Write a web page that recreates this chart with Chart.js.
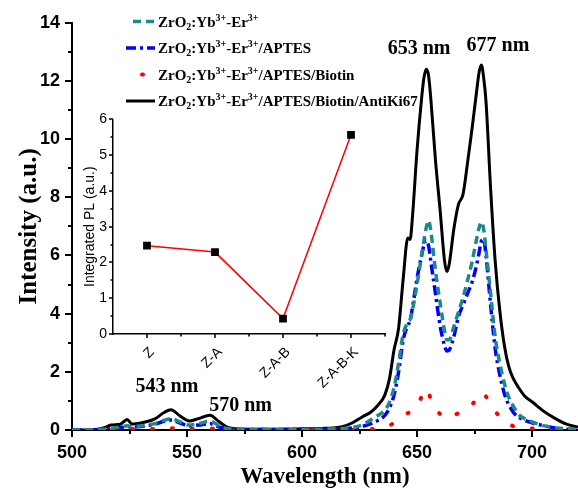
<!DOCTYPE html>
<html><head><meta charset="utf-8">
<script src="https://cdn.jsdelivr.net/npm/chart.js@4.4.1/dist/chart.umd.min.js"></script>
<style>
html,body{margin:0;padding:0;background:#fff;}
#wrap{position:relative;width:578px;height:491px;overflow:hidden;background:#fff;}
#main{position:absolute;left:0;top:0;}
#inset{position:absolute;left:70px;top:105px;}
</style></head><body>
<div id="wrap"><canvas id="main" width="578" height="491"></canvas><canvas id="inset" width="330" height="300"></canvas></div>
<script>
// ---- data ----
const wavelengths = [500,510,514,517,521,524,526,530,536,540,
  543,547,551,555,560,564,568,575,590,600,
  610,617,622,626,630,633,636,638,640,642,
  644,646,647,648,650,652,653,654,655,656,
  658,660,662,663,664,666,668,670,672,674,
  676,677,678,679,680,682,684,686,688,690,
  692,694,697,700,705,710,715,720];
const ZYE = [0,0.01,0.03,0.06,0.1,0.15,0.12,0.14,0.22,0.33,
  0.39,0.28,0.17,0.22,0.3,0.15,0.04,0.02,0.02,0.02,
  0.03,0.05,0.09,0.17,0.35,0.5,0.68,0.95,1.45,2.3,
  3.3,3.7,3.8,4.1,5.0,6.0,6.5,6.95,7.2,6.85,
  5.5,4.4,3.4,3.1,3.1,3.55,4.05,4.55,5.15,5.8,
  6.6,6.95,7.15,6.9,6.2,4.7,3.2,2.3,1.6,1.1,
  0.8,0.55,0.38,0.28,0.15,0.08,0.04,0.02];
const ZYE_APTES = [0,0.01,0.03,0.05,0.08,0.12,0.1,0.12,0.2,0.3,
  0.34,0.24,0.14,0.17,0.22,0.1,0.03,0.02,0.02,0.02,
  0.03,0.04,0.07,0.12,0.22,0.33,0.5,0.75,1.2,2.0,
  3.1,3.6,3.75,4.2,5.2,6.0,6.35,6.52,6.35,5.8,
  4.7,3.6,2.9,2.72,2.75,3.2,3.9,4.3,4.7,5.1,
  5.7,6.1,6.5,6.55,6.0,4.3,2.8,1.9,1.25,0.85,
  0.6,0.45,0.33,0.25,0.15,0.07,0.03,0.02];
const ZYE_APTES_Biotin = [0,0,0.01,0.02,0.03,0.05,0.04,0.03,0.04,0.05,
  0.06,0.05,0.03,0.04,0.05,0.03,0.01,0,0,0,
  0,0,0.01,0.02,0.03,0.05,0.1,0.15,0.25,0.37,
  0.48,0.58,0.62,0.68,0.85,1.15,1.38,1.42,1.3,1.05,
  0.75,0.55,0.43,0.41,0.42,0.5,0.58,0.66,0.74,0.88,
  1.08,1.2,1.28,1.28,1.15,0.9,0.65,0.45,0.3,0.2,
  0.13,0.09,0.06,0.05,0.03,0.02,0.01,0.01];
const ZYE_APTES_Biotin_AntiKi67 = [0,0.01,0.08,0.17,0.2,0.36,0.21,0.24,0.38,0.6,
  0.7,0.48,0.31,0.39,0.51,0.28,0.08,0.03,0.03,0.04,
  0.06,0.1,0.25,0.44,0.62,0.85,1.2,1.75,2.75,3.5,
  5.2,6.6,6.55,7.3,9.6,11.4,12.1,12.4,12.2,11.4,
  9.3,7.6,5.8,5.45,5.7,6.9,7.75,8.1,9.2,10.4,
  11.7,12.3,12.55,12.1,11.3,8.3,5.8,4.1,2.9,2.15,
  1.75,1.48,1.15,0.97,0.65,0.4,0.2,0.1];
const seriesNames = ['ZrO_2:Yb^{3+}-Er^{3+}', 'ZrO_2:Yb^{3+}-Er^{3+}/APTES',
  'ZrO_2:Yb^{3+}-Er^{3+}/APTES/Biotin', 'ZrO_2:Yb^{3+}-Er^{3+}/APTES/Biotin/AntiKi67'];
const xTickValues = [500,550,600,650,700];
const yTickValues = [0,2,4,6,8,10,12,14];
const peakLabels = ['653 nm','677 nm','543 nm','570 nm'];
const peakLabelX = [650.9, 685.2, 541.3, 573.3];
const peakLabelY = [13.1, 13.22, 1.47, 0.84];
const insetCategories = ['Z','Z-A','Z-A-B','Z-A-B-K'];
const insetValues = [2.47, 2.29, 0.43, 5.57];
const insetYTicks = [0,1,2,3,4,5,6];

// ---- styles ----
const styles = [
  {color:'#1a8a8a', dash:[8,5], width:3.5, cap:'butt'},
  {color:'#0000ff', dash:[10,4,3,4], width:3.5, cap:'butt'},
  {color:'#ff0000', dash:[1,19], width:4, cap:'round'},
  {color:'#000000', dash:[], width:3, cap:'butt'}
];
const seriesData = [ZYE, ZYE_APTES, ZYE_APTES_Biotin, ZYE_APTES_Biotin_AntiKi67];

function parseRich(s){ const parts=[]; let i=0, buf='';
  while(i<s.length){ const c=s[i];
    if(c==='_'||c==='^'){ if(buf){parts.push([buf,'n']);buf='';}
      const mode=c==='_'?'sub':'sup'; i++; let t='';
      if(s[i]==='{'){ i++; while(s[i]!=='}'){t+=s[i];i++;} i++; } else { t=s[i]; i++; }
      parts.push([t,mode]);
    } else { buf+=c; i++; } }
  if(buf) parts.push([buf,'n']); return parts; }

const mainTicks = { id:'mainTicks', afterDraw(chart){
  const {ctx, chartArea:a} = chart; const x=chart.scales.x, y=chart.scales.y;
  ctx.save(); ctx.strokeStyle='#000'; ctx.lineWidth=2; ctx.beginPath();
  x.ticks.forEach(t=>{ const px=Math.round(x.getPixelForValue(t.value)); const len=xTickValues.includes(t.value)?7:4;
    ctx.moveTo(px,a.bottom); ctx.lineTo(px,a.bottom+len); });
  y.ticks.forEach(t=>{ const py=Math.round(y.getPixelForValue(t.value)); const len=yTickValues.includes(t.value)?7:4;
    ctx.moveTo(a.left,py); ctx.lineTo(a.left-len,py); });
  ctx.stroke(); ctx.restore(); } };

const legendPlugin = { id:'richLegend', afterDraw(chart){
  const ctx=chart.ctx; ctx.save();
  const rows=[21.5,48,74.5,101];
  seriesNames.forEach((name,i)=>{
    const st=styles[i], cy=rows[i];
    ctx.strokeStyle=st.color; ctx.lineWidth=st.width; ctx.setLineDash(st.dash); ctx.lineCap=st.cap;
    ctx.beginPath();
    const x0 = i===0?133:(i===2?142:126);
    ctx.moveTo(x0,cy); ctx.lineTo(i===2?143:155,cy); ctx.stroke();
    ctx.setLineDash([]); ctx.lineCap='butt';
    let x=158; const base=cy+5;
    ctx.fillStyle='#000'; ctx.textBaseline='alphabetic'; ctx.textAlign='left';
    parseRich(name).forEach(([t,m])=>{
      if(m==='n'){ ctx.font='bold 15px "Liberation Serif"'; ctx.fillText(t,x,base); }
      else if(m==='sup'){ ctx.font='bold 10px "Liberation Serif"'; ctx.fillText(t,x,base-6); }
      else { ctx.font='bold 10px "Liberation Serif"'; ctx.fillText(t,x,base+3); }
      x+=ctx.measureText(t).width;
    });
  });
  ctx.restore(); } };

const peakPlugin = { id:'peaks', afterDraw(chart){
  const ctx=chart.ctx, x=chart.scales.x, y=chart.scales.y; ctx.save();
  ctx.font='bold 20px "Liberation Serif"'; ctx.fillStyle='#000'; ctx.textAlign='center'; ctx.textBaseline='middle';
  peakLabels.forEach((t,i)=>ctx.fillText(t, x.getPixelForValue(peakLabelX[i]), y.getPixelForValue(peakLabelY[i])));
  ctx.restore(); } };

new Chart(document.getElementById('main'), {
  type:'line',
  data:{ datasets: seriesData.map((arr,i)=>({
    label: seriesNames[i],
    data: wavelengths.map((w,j)=>({x:w,y:arr[j]})),
    borderColor: styles[i].color, borderWidth: styles[i].width, borderDash: styles[i].dash,
    borderCapStyle: styles[i].cap, pointRadius:0, fill:false, cubicInterpolationMode:'monotone'
  }))},
  options:{
    responsive:false, devicePixelRatio:1, animation:false,
    layout:{padding:{top:15,right:0,left:0,bottom:0}},
    plugins:{legend:{display:false}, tooltip:{enabled:false}},
    scales:{
      x:{type:'linear', min:500, max:720,
        afterFit(s){ s.height=61; },
        ticks:{stepSize:25, includeBounds:false, autoSkip:false, maxRotation:0, padding:12,
          font:{family:'Liberation Sans', weight:'bold', size:18}, color:'#000',
          callback:v=> xTickValues.includes(v)? String(v):''},
        grid:{display:false, drawTicks:false}, border:{display:true,color:'#000',width:2},
        title:{display:true, text:'Wavelength (nm)', color:'#000', padding:{top:0,bottom:0},
          font:{family:'Liberation Serif', weight:'bold', size:23}}},
      y:{type:'linear', min:0, max:14,
        afterFit(s){ s.width=72; },
        ticks:{stepSize:1, autoSkip:false, padding:12,
          font:{family:'Liberation Sans', weight:'bold', size:18}, color:'#000',
          callback:v=> yTickValues.includes(v)? String(v):''},
        grid:{display:false, drawTicks:false}, border:{display:true,color:'#000',width:2},
        title:{display:true, text:'Intensity (a.u.)', color:'#000', padding:{top:15,bottom:0},
          font:{family:'Liberation Serif', weight:'bold', size:25}}}
    }
  },
  plugins:[mainTicks, legendPlugin, peakPlugin]
});

const insetTicks = { id:'insetTicks', afterDraw(chart){
  const {ctx, chartArea:a} = chart; const x=chart.scales.x, y=chart.scales.y;
  ctx.save(); ctx.strokeStyle='#000'; ctx.lineWidth=1.5; ctx.beginPath();
  insetCategories.forEach((c,i)=>{ const px=Math.round(x.getPixelForValue(i));
    ctx.moveTo(px,a.bottom); ctx.lineTo(px,a.bottom+4);
    const h=Math.round((x.getPixelForValue(i)+ (i<insetCategories.length-1? x.getPixelForValue(i+1): 2*x.getPixelForValue(i)-x.getPixelForValue(i-1)))/2);
    ctx.moveTo(h,a.bottom); ctx.lineTo(h,a.bottom+2.5); });
  for(let v=0; v<=6; v+=0.5){ const py=Math.round(y.getPixelForValue(v)); const len=(v%1===0)?4:2.5;
    ctx.moveTo(a.left,py); ctx.lineTo(a.left-len,py); }
  ctx.stroke(); ctx.restore(); } };

new Chart(document.getElementById('inset'), {
  type:'line',
  data:{ labels: insetCategories, datasets:[{ data: insetValues, borderColor:'#ff0000', borderWidth:1.5,
    pointStyle:'rect', pointRadius:5.5, pointBackgroundColor:'#000', pointBorderColor:'#000', pointBorderWidth:0, tension:0 }]},
  options:{
    responsive:false, devicePixelRatio:1, animation:false,
    layout:{padding:{top:12,right:15,left:0,bottom:0}},
    plugins:{legend:{display:false}, tooltip:{enabled:false}},
    scales:{
      x:{type:'category', offset:true, afterFit(s){ s.height=71; },
        ticks:{minRotation:45, maxRotation:45, autoSkip:false, padding:10, labelOffset:5,
          font:{family:'Liberation Sans', size:14}, color:'#000'},
        grid:{display:false, drawTicks:false}, border:{display:true,color:'#000',width:1.5}},
      y:{min:0, max:6, afterFit(s){ s.width=43; },
        ticks:{stepSize:1, padding:6, font:{family:'Liberation Sans', size:14}, color:'#000',
          callback:v=> insetYTicks.includes(v)? String(v):''},
        grid:{display:false, drawTicks:false}, border:{display:true,color:'#000',width:1.5},
        title:{display:true, text:'Integrated PL (a.u.)', color:'#000', padding:{top:12,bottom:0},
          font:{family:'Liberation Sans', size:14}}}
    }
  },
  plugins:[insetTicks]
});
</script></body></html>
